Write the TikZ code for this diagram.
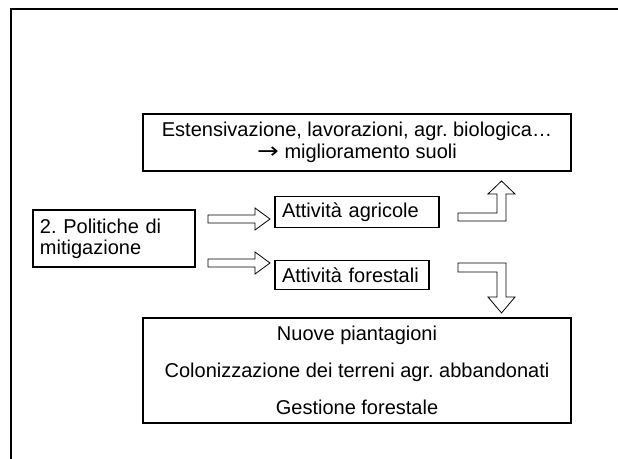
\documentclass[tikz,border=0pt]{standalone}
\usepackage{fontspec}
\setmainfont{Liberation Sans}
\newfontfamily\symfont{DejaVu Sans}
\frenchspacing
\begin{document}
\begin{tikzpicture}[x=0.75pt,y=-0.75pt,
  box/.style={draw=black,line width=0.8pt,fill=white,inner sep=0pt},
  lbox/.style={draw=black,line width=0.8pt,fill=white,inner ysep=0pt,inner xsep=5.25pt,align=left},
  blockarrow/.style={draw=black,line width=0.6pt,fill=white,line join=miter},
  frame/.style={draw=black,line width=2pt},
  txt/.style={font=\fontsize{15}{17.25}\selectfont}]
\useasboundingbox (0,0) rectangle (618,459);
% slide frame (partly visible)
\draw[frame] (10,9) -- (618,9);
\draw[frame] (11,8.5) -- (11,459);
% boxes
\node[box,txt,align=center,minimum width=321pt,minimum height=42.75pt,
      font=\fontsize{15}{16.5}\selectfont] (top) at (357,142.5)
  {Estensivazione, lavorazioni, agr. biologica…\\{\symfont\scalebox{1.3}[1.1]{→}} miglioramento suoli};
\node[lbox,txt,text width=111pt,minimum height=42.75pt,
      font=\fontsize{15}{15.75}\selectfont] (pol) at (114,238.5)
  {2. Politiche di\\mitigazione};
\node[lbox,txt,text width=112.5pt,minimum height=23.25pt] (agr) at (357,212)
  {Attività agricole};
\node[lbox,txt,text width=105pt,minimum height=21.75pt] (for) at (352,275)
  {Attività forestali};
\node[box,txt,align=center,minimum width=321pt,minimum height=78.75pt,
      font=\fontsize{15}{27.75}\selectfont] (bot) at (357,370.5)
  {Nuove piantagioni\\Colonizzazione dei terreni agr. abbandonati\\Gestione forestale};
% straight block arrows
\draw[blockarrow] (208,215) -- (255,215) -- (255,208) -- (270,219) -- (255,230)
  -- (255,223) -- (208,223) -- cycle;
\draw[blockarrow] (208,259) -- (255,259) -- (255,252) -- (270,263) -- (255,274)
  -- (255,267) -- (208,267) -- cycle;
% bent block arrows
\draw[blockarrow] (458,213) -- (497,213) -- (497,194) -- (488,194) -- (501.5,181)
  -- (515,194) -- (506,194) -- (506,221) -- (458,221) -- cycle;
\draw[blockarrow] (458,263) -- (506,263) -- (506,297) -- (515,297) -- (501.5,313)
  -- (488,297) -- (497,297) -- (497,272) -- (458,272) -- cycle;
\end{tikzpicture}
\end{document}
